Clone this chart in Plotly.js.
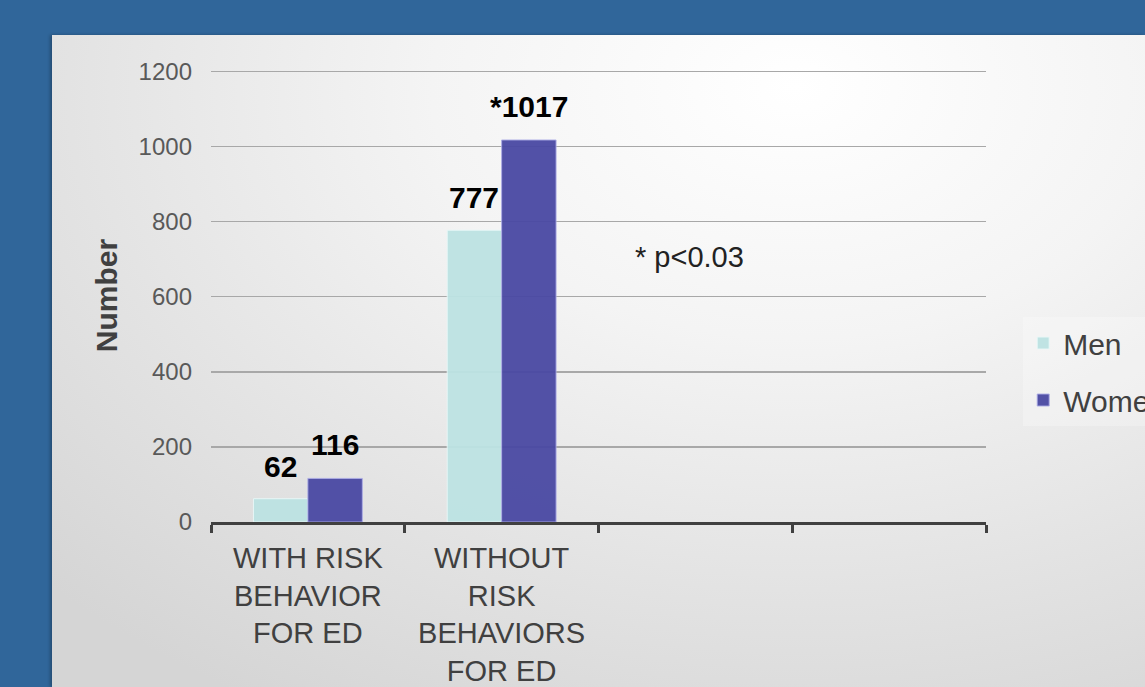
<!DOCTYPE html>
<html>
<head>
<meta charset="utf-8">
<script src="https://cdn.plot.ly/plotly-3.0.1.min.js"></script>
<style>
  html, body { margin: 0; padding: 0; width: 1145px; height: 687px; overflow: hidden; background: #30669a; }
  #panel { position: absolute; left: 52px; top: 35px; width: 1093px; height: 652px;
    background: radial-gradient(ellipse 95% 110% at 68% 8%, #ffffff 0%, #f4f4f4 35%, #e3e3e3 70%, #d5d5d5 100%);
    box-shadow: -2px 0 3px rgba(0,0,0,0.25); }
  #chart { position: absolute; left: 0; top: 0; width: 1145px; height: 687px; }
</style>
</head>
<body>
<div id="panel"></div>
<div id="chart"></div>
<script>
// ---- data ----
const categories = ["WITH RISK<br>BEHAVIOR<br>FOR ED", "WITHOUT<br>RISK<br>BEHAVIORS<br>FOR ED", " ", "  "];
const menValues = [62, 777, null, null];
const womenValues = [116, 1017, null, null];
const menLabels = ["62", "777", "", ""];
const womenLabels = ["116", "*1017", "", ""];
const seriesNames = ["Men", "Women"];
const noteText = "* p<0.03";
const yTicks = [0, 200, 400, 600, 800, 1000, 1200];

const FONT = "Liberation Sans, Arial, Helvetica, sans-serif";

const traces = [
  {
    type: "bar", name: seriesNames[0], x: categories, y: menValues,
    legendgroup: "m", opacity: 0.95,
    marker: { color: "#bde3e3", line: { color: "rgba(235,250,250,0.9)", width: 1 } },
    hoverinfo: "skip"
  },
  {
    type: "bar", name: seriesNames[1], x: categories, y: womenValues,
    legendgroup: "w", opacity: 0.95,
    marker: { color: "#4a49a3", line: { color: "rgba(170,170,230,0.9)", width: 1 } },
    hoverinfo: "skip"
  }
];

const annotations = [];
const barHalf = 27.3;
categories.forEach((c, i) => {
  if (menValues[i] != null) {
    annotations.push({ x: c, y: menValues[i], xref: "x", yref: "y", text: menLabels[i],
      showarrow: false, xshift: -barHalf, yshift: 14, yanchor: "bottom",
      font: { family: FONT, size: 30, color: "#000000", weight: "bold" } });
  }
  if (womenValues[i] != null) {
    annotations.push({ x: c, y: womenValues[i], xref: "x", yref: "y", text: womenLabels[i],
      showarrow: false, xshift: barHalf, yshift: 15, yanchor: "bottom",
      font: { family: FONT, size: 30, color: "#000000", weight: "bold" } });
  }
});
annotations.push({ x: 0.618, y: 0.585, xref: "paper", yref: "paper", text: noteText,
  showarrow: false, font: { family: FONT, size: 29, color: "#222222" } });

const layout = {
  width: 1145, height: 687,
  margin: { l: 211, r: 159, t: 69, b: 165, autoexpand: false },
  paper_bgcolor: "rgba(0,0,0,0)", plot_bgcolor: "rgba(0,0,0,0)",
  font: { family: FONT },
  barmode: "group", bargap: 0.438, bargroupgap: 0,
  showlegend: true,
  legend: {
    x: 1.048, y: 0.4525, xanchor: "left", yanchor: "top",
    font: { family: FONT, size: 30, color: "#404040" },
    bgcolor: "rgba(255,255,255,0.25)", tracegroupgap: 15,
    itemclick: false, itemdoubleclick: false
  },
  xaxis: {
    type: "category", categoryorder: "array", categoryarray: categories,
    range: [-0.5, 3.5], fixedrange: true,
    showline: true, linecolor: "#404040", linewidth: 3,
    ticks: "outside", tickson: "boundaries", ticklen: 8, tickwidth: 3, tickcolor: "#404040",
    showgrid: false, zeroline: false,
    tickfont: { family: FONT, size: 29, color: "#404040" },
    ticklabelstandoff: 8
  },
  yaxis: {
    range: [0, 1206], tickvals: yTicks, fixedrange: true,
    showline: false, zeroline: false,
    showgrid: true, gridcolor: "#a8a8a8", gridwidth: 1.5,
    ticks: "", tickfont: { family: FONT, size: 24, color: "#595959" },
    ticklabelstandoff: 18,
    title: { text: "Number", standoff: 12, font: { family: FONT, size: 30, color: "#404040", weight: "bold" } }
  },
  annotations: annotations
};

Plotly.newPlot("chart", traces, layout, { displayModeBar: false, staticPlot: true });
</script>
</body>
</html>
